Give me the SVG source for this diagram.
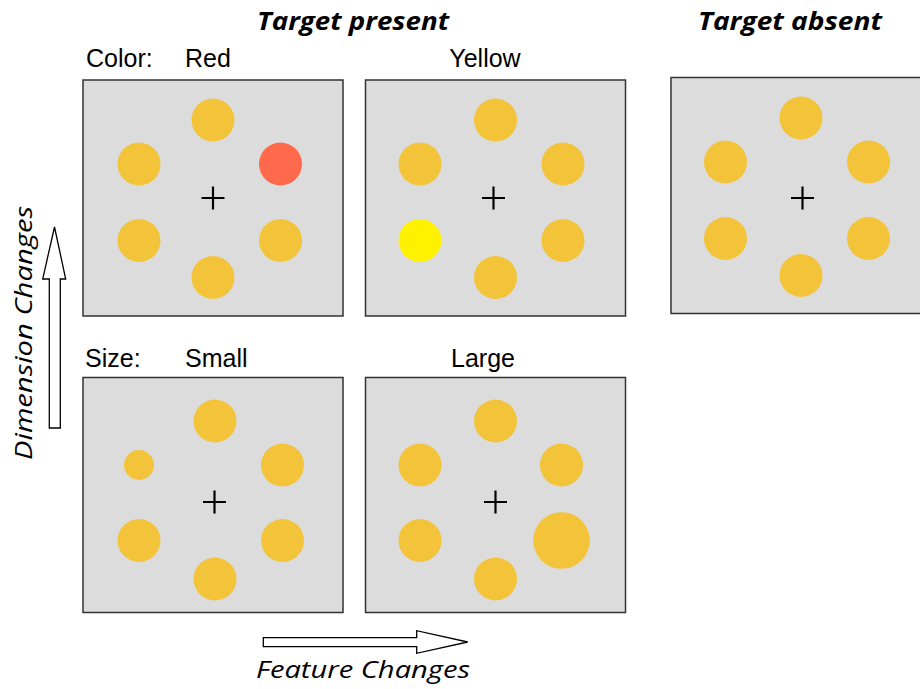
<svg xmlns="http://www.w3.org/2000/svg" width="920" height="689" viewBox="0 0 920 689">
<style>
.box{fill:#dcdcdc;stroke:#333;stroke-width:1.5}
.d{fill:#f3c33a}
.fix{stroke:#000;stroke-width:2.2;fill:none}
.lbl{font-family:"Liberation Sans",Arial,sans-serif;font-size:25px;fill:#000}
.hdr{font-family:"Open Sans","Noto Sans",sans-serif;font-weight:bold;font-style:italic;font-size:25px;fill:#000}
.ax{font-family:"Open Sans","Noto Sans",sans-serif;font-style:italic;font-size:23.5px;fill:#000}
.arr{fill:#fff;stroke:#000;stroke-width:1.3}
</style>
<defs>
<path id="plus" d="M-11.5 0H11.5M0 -11.5V11.5"/>
</defs>
<rect width="920" height="689" fill="#fff"/>
<text class="hdr" x="353" y="30" text-anchor="middle" textLength="192" lengthAdjust="spacingAndGlyphs">Target present</text>
<text class="hdr" x="790" y="30" text-anchor="middle" textLength="184" lengthAdjust="spacingAndGlyphs">Target absent</text>
<text class="lbl" x="86" y="66.5">Color:</text>
<text class="lbl" x="185" y="66.5">Red</text>
<text class="lbl" x="485" y="66.5" text-anchor="middle">Yellow</text>
<text class="lbl" x="85" y="366.5">Size:</text>
<text class="lbl" x="185" y="366.5">Small</text>
<text class="lbl" x="483" y="366.5" text-anchor="middle">Large</text>

<g id="panel-red">
<rect class="box" x="83" y="80" width="260" height="236"/>
<circle class="d" cx="213" cy="120" r="21.5"/>
<circle class="d" cx="139" cy="164" r="21.5"/>
<circle cx="280.5" cy="164" r="21.5" fill="#ff6a4d"/>
<circle class="d" cx="139" cy="240.5" r="21.5"/>
<circle class="d" cx="280.5" cy="240.5" r="21.5"/>
<circle class="d" cx="213" cy="277.5" r="21.5"/>
<use href="#plus" class="fix" x="213" y="198"/>
</g>
<g id="panel-yellow">
<rect class="box" x="365.5" y="80" width="260" height="236"/>
<circle class="d" cx="495.5" cy="120" r="21.5"/>
<circle class="d" cx="420" cy="164" r="21.5"/>
<circle class="d" cx="563" cy="164" r="21.5"/>
<circle cx="420" cy="240.5" r="21.5" fill="#fff200"/>
<circle class="d" cx="563" cy="240.5" r="21.5"/>
<circle class="d" cx="495.5" cy="277.5" r="21.5"/>
<use href="#plus" class="fix" x="493.5" y="198"/>
</g>
<g id="panel-absent">
<rect class="box" x="671" y="77.5" width="260" height="236"/>
<circle class="d" cx="801" cy="118" r="21.5"/>
<circle class="d" cx="725.5" cy="162" r="21.5"/>
<circle class="d" cx="868.5" cy="162" r="21.5"/>
<circle class="d" cx="725.5" cy="238.5" r="21.5"/>
<circle class="d" cx="868.5" cy="238.5" r="21.5"/>
<circle class="d" cx="801" cy="275.5" r="21.5"/>
<use href="#plus" class="fix" x="802.5" y="198"/>
</g>
<g id="panel-small">
<rect class="box" x="83" y="377.5" width="260" height="235"/>
<circle class="d" cx="215" cy="421" r="21.5"/>
<circle class="d" cx="139" cy="465" r="15"/>
<circle class="d" cx="282.5" cy="465" r="21.5"/>
<circle class="d" cx="139" cy="540.5" r="21.5"/>
<circle class="d" cx="282.5" cy="540.5" r="21.5"/>
<circle class="d" cx="215" cy="579" r="21.5"/>
<use href="#plus" class="fix" x="214.5" y="502"/>
</g>
<g id="panel-large">
<rect class="box" x="365.5" y="377.5" width="260" height="235"/>
<circle class="d" cx="495.5" cy="421" r="21.5"/>
<circle class="d" cx="420" cy="465" r="21.5"/>
<circle class="d" cx="561.5" cy="465" r="21.5"/>
<circle class="d" cx="420" cy="540.5" r="21.5"/>
<circle class="d" cx="561.5" cy="540.5" r="28.3"/>
<circle class="d" cx="495.5" cy="579" r="21.5"/>
<use href="#plus" class="fix" x="495.5" y="502"/>
</g>
<g id="connectors">
<path class="arr" d="M49.3 428V279H42.7L54.5 227L65.7 279H60.3V428Z"/>
<path class="arr" d="M263.3 637.7H416.7V630.7L467.7 642L416.7 653.3V646.7H263.3Z"/>
</g>
<text class="ax" transform="translate(32 333) rotate(-90)" text-anchor="middle" textLength="254" lengthAdjust="spacingAndGlyphs">Dimension Changes</text>
<text class="ax" x="363" y="678" text-anchor="middle" textLength="214" lengthAdjust="spacingAndGlyphs">Feature Changes</text>
</svg>
